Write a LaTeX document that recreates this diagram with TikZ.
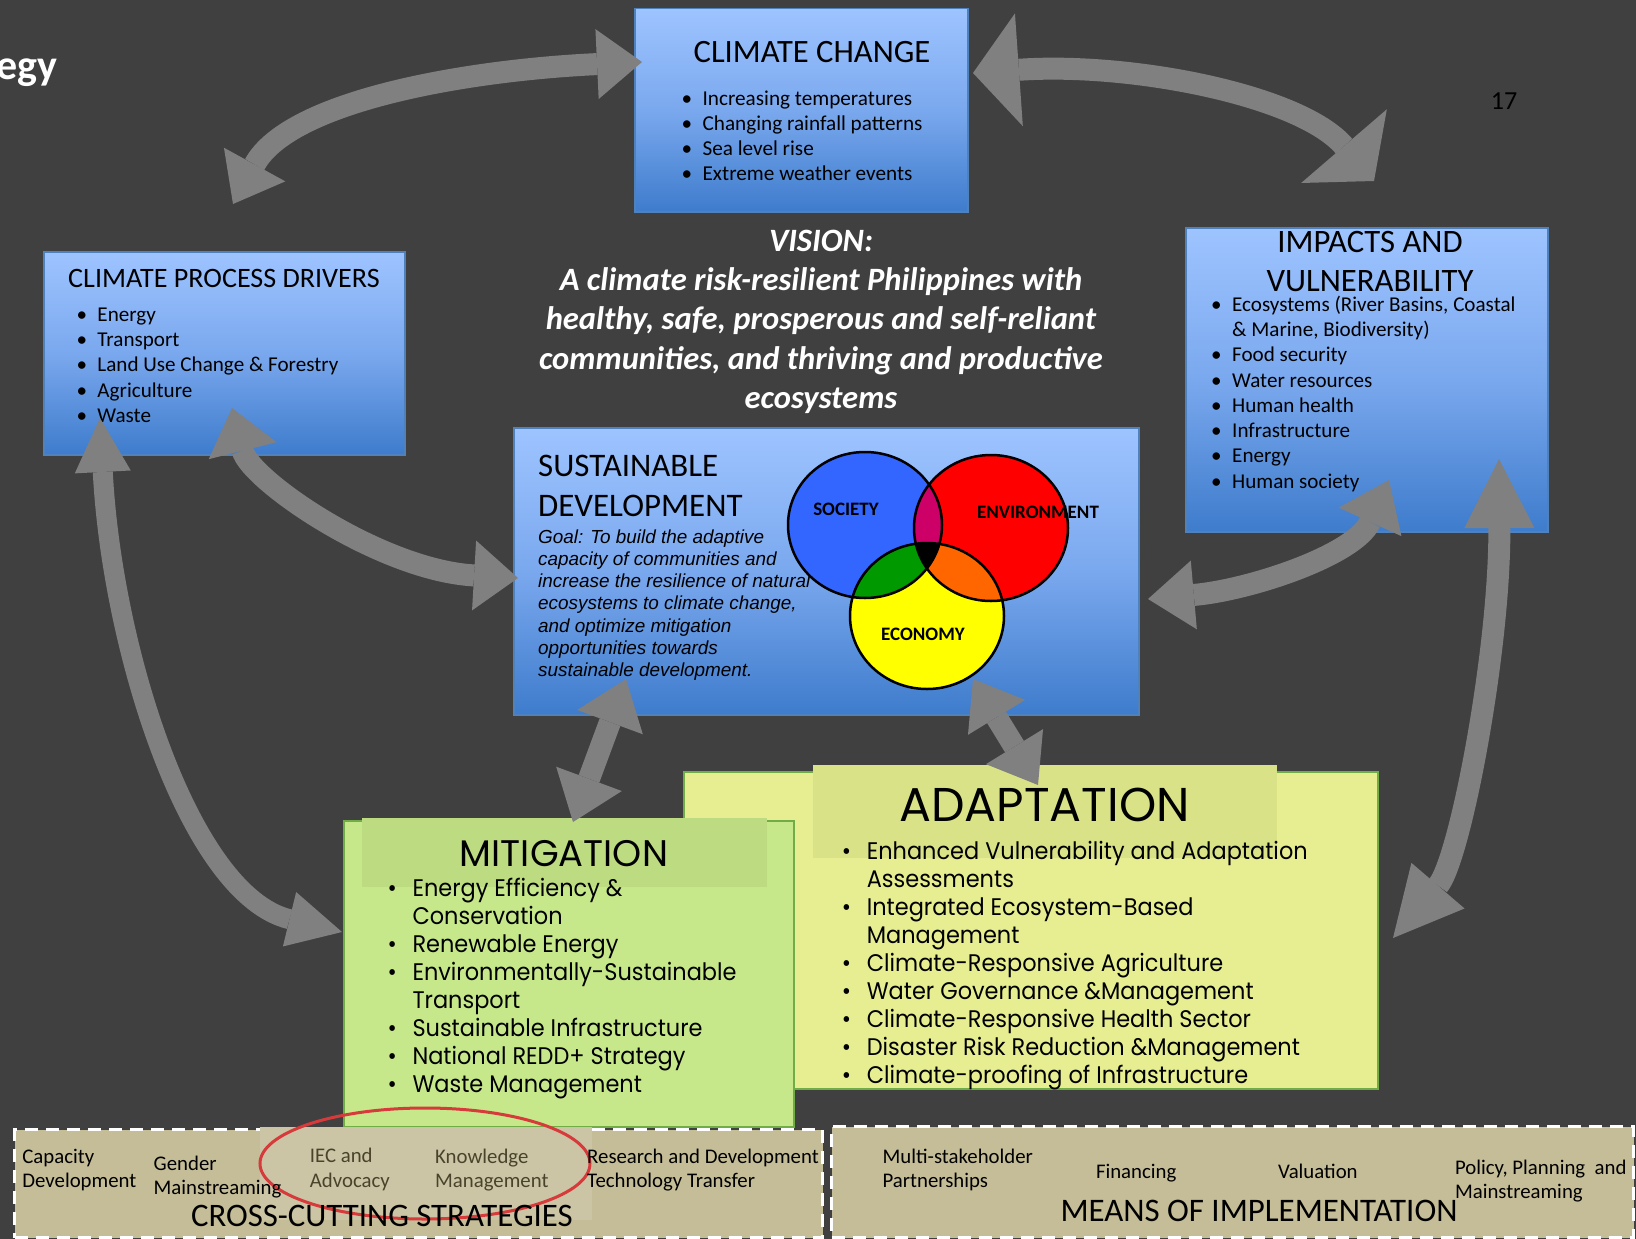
\documentclass[tikz,border=0pt]{standalone}
\usepackage{fontspec}
\setmainfont{Carlito}
\newfontfamily\arialfont{Liberation Sans}
\newfontfamily\gothicfont{Poppins}
\newfontfamily\gothiclist[FakeStretch=0.935]{Poppins}
\usetikzlibrary{arrows.meta,positioning,calc}

\definecolor{slidebg}{RGB}{64,64,64}
\definecolor{arrowgray}{RGB}{128,128,128}
\definecolor{bluetop}{RGB}{158,196,255}
\definecolor{bluemid}{RGB}{122,168,238}
\definecolor{bluebot}{RGB}{62,124,204}
\definecolor{blueline}{RGB}{79,129,189}
\definecolor{mitfill}{RGB}{198,232,139}
\definecolor{mithead}{RGB}{189,220,130}
\definecolor{adafill}{RGB}{230,238,145}
\definecolor{adahead}{RGB}{218,226,136}
\definecolor{greenline}{RGB}{112,173,71}
\definecolor{tanfill}{RGB}{196,189,151}
\definecolor{patchfill}{RGB}{203,197,166}
\definecolor{ringred}{RGB}{214,58,58}
\definecolor{societyblue}{RGB}{51,102,255}
\definecolor{envred}{RGB}{255,0,0}
\definecolor{ecoyellow}{RGB}{255,255,0}
\definecolor{lensmagenta}{RGB}{204,0,102}
\definecolor{lensgreen}{RGB}{0,153,0}
\definecolor{lensorange}{RGB}{255,102,0}
\definecolor{olivetext}{RGB}{74,67,44}

\newcommand{\fsz}[2]{\fontsize{#1}{#2}\selectfont}
\newcommand{\dotitem}[1][21pt]{\llap{\makebox[#1][l]{\textbullet}}}
\newcommand{\socring}{(865,525) ellipse [x radius=77, y radius=73]}
\newcommand{\envring}{(991,528) ellipse [x radius=77, y radius=73]}
\newcommand{\ecoring}{(927,616) ellipse [x radius=77, y radius=73]}

\begin{document}
\begin{tikzpicture}[x=1pt, y=-1pt,
    bluebox/.style={draw=blueline, line width=1.5pt, top color=bluetop, bottom color=bluebot, middle color=bluemid, anchor=north west, inner sep=0pt},
    greenbox/.style={draw=greenline, line width=2pt, anchor=north west, inner sep=0pt},
    band/.style={anchor=north west, inner sep=0pt},
    dashbox/.style={draw=white, line width=3pt, dash pattern=on 13pt off 8pt, fill=tanfill, anchor=north west, inner sep=0pt},
    item/.style={anchor=base west, inner sep=0pt},
    head/.style={anchor=base, inner sep=0pt},
    biarrow/.style n args={3}{draw=arrowgray, line width=#1,
      {Triangle[width=#2, length=#3, line width=0pt]}-{Triangle[width=#2, length=#3, line width=0pt]}}]

  % Slide background and page size
  \fill[slidebg] (0,0) rectangle (1636,1239);
  \useasboundingbox (0,0) rectangle (1636,1239);

  % Title fragment and page number
  \node[anchor=base east, inner sep=0pt, text=white, font=\fsz{42}{48}\bfseries] (ttl) at (58,79) {egy};
  \node[head, font=\fsz{26}{30}] (pgno) at (1504,109) {17};

  % Climate change
  \node[bluebox, minimum width=333pt, minimum height=203pt] (cc) at (634,8) {};
  \node[head, font=\fsz{32.6}{38}] (cc-title) at (812,63) {CLIMATE CHANGE};
  \foreach \txt [count=\i from 0] in {Increasing temperatures, Changing rainfall patterns, Sea level rise, Extreme weather events}
    \node[item, font=\fsz{21.2}{25}] (cc-\i) at (702.4,105+25.3*\i) {\dotitem\txt};

  % Climate process drivers
  \node[bluebox, minimum width=361pt, minimum height=203pt] (drv) at (43,251) {};
  \node[head, font=\fsz{28.1}{33}] (drv-title) at (224,287) {CLIMATE PROCESS DRIVERS};
  \foreach \txt [count=\i from 0] in {Energy, Transport, Land Use Change \& Forestry, Agriculture, Waste}
    \node[item, font=\fsz{21.1}{25}] (drv-\i) at (97.3,321.7+25.1*\i) {\dotitem\txt};

  % Impacts and vulnerability
  \node[bluebox, minimum width=362pt, minimum height=304pt] (imp) at (1185,227) {};
  \node[head, font=\fsz{32.7}{38}] (imp-title) at (1370,252) {IMPACTS AND};
  \node[head, font=\fsz{32.7}{38}] (imp-title2) at (1370,291) {VULNERABILITY};
  \foreach \txt [count=\i from 0] in {{\dotitem Ecosystems (River Basins, Coastal}, {\& Marine, Biodiversity)},
      \dotitem Food security, \dotitem Water resources, \dotitem Human health,
      \dotitem Infrastructure, \dotitem Energy, \dotitem Human society}
    \node[item, font=\fsz{21.1}{25}] (imp-\i) at (1232,311.4+25.25*\i) {\txt};

  % Vision statement
  \foreach \txt [count=\i from 0] in {VISION:, A climate risk-resilient Philippines with,
      {healthy, safe, prosperous and self-reliant}, {communities, and thriving and productive}, ecosystems}
    \node[head, text=white, font=\fsz{32.6}{39}\bfseries\itshape] (vis-\i) at (821,251.7+39.1*\i) {\txt};

  % Sustainable development
  \node[bluebox, minimum width=625pt, minimum height=287pt] (sd) at (513,427) {};
  \node[item, font=\fsz{32.9}{39}] (sd-title) at (538,476.7) {SUSTAINABLE};
  \node[item, font=\fsz{32.9}{39}] (sd-title2) at (538,516) {DEVELOPMENT};
  \foreach \txt [count=\i from 0] in {Goal: To build the adaptive, capacity of communities and,
      increase the resilience of natural, {ecosystems to climate change,}, and optimize mitigation,
      opportunities towards, sustainable development.}
    \node[item, font=\fsz{18.9}{22}\arialfont\itshape] (goal-\i) at (538,543.3+22.2*\i) {\txt};

  % Society, environment, economy
  \fill[societyblue] \socring;
  \fill[envred] \envring;
  \fill[ecoyellow] \ecoring;
  \begin{scope}
    \clip \socring;
    \fill[lensmagenta] \envring;
    \fill[lensgreen] \ecoring;
  \end{scope}
  \begin{scope}
    \clip \envring;
    \fill[lensorange] \ecoring;
  \end{scope}
  \begin{scope}
    \clip \socring;
    \clip \envring;
    \fill[black] \ecoring;
  \end{scope}
  \draw[line width=2.5pt] \socring \envring \ecoring;
  \node[head, font=\fsz{19}{22}\bfseries] (soc) at (846,515) {SOCIETY};
  \node[head, font=\fsz{19}{22}\bfseries] (env) at (1038,518.3) {ENVIRONMENT};
  \node[head, font=\fsz{19}{22}\bfseries] (eco) at (923,640) {ECONOMY};

  % Adaptation
  \node[greenbox, fill=adafill, minimum width=694pt, minimum height=317pt] (ada) at (683,771) {};
  \node[band, fill=adahead, minimum width=464pt, minimum height=93pt] (ada-band) at (813,765) {};
  \node[head, font=\fsz{47.4}{54}\gothicfont] (ada-title) at (1044.5,821.7) {ADAPTATION};
  \foreach \txt [count=\i from 0] in {\dotitem[25pt]Enhanced Vulnerability and Adaptation, Assessments,
      \dotitem[25pt]Integrated Ecosystem-Based, Management, \dotitem[25pt]Climate-Responsive Agriculture,
      \dotitem[25pt]Water Governance \&Management, \dotitem[25pt]Climate-Responsive Health Sector,
      \dotitem[25pt]Disaster Risk Reduction \&Management, \dotitem[25pt]Climate-proofing of Infrastructure}
    \node[item, font=\fsz{24}{28}\gothiclist] (ada-\i) at (866.6,859.3+28*\i) {\txt};

  % Mitigation
  \node[greenbox, fill=mitfill, minimum width=450pt, minimum height=306pt] (mit) at (343,820) {};
  \node[band, fill=mithead, minimum width=405pt, minimum height=69pt] (mit-band) at (362,818) {};
  \node[head, font=\fsz{37}{44}\gothicfont] (mit-title) at (564,866) {MITIGATION};
  \foreach \txt [count=\i from 0] in {\dotitem[25pt]Energy Efficiency \&, Conservation,
      \dotitem[25pt]Renewable Energy, \dotitem[25pt]Environmentally-Sustainable, Transport,
      \dotitem[25pt]Sustainable Infrastructure, \dotitem[25pt]National REDD+ Strategy,
      \dotitem[25pt]Waste Management}
    \node[item, font=\fsz{24}{28}\gothiclist] (mit-\i) at (412.3,896.7+27.95*\i) {\txt};

  % Cross-cutting strategies
  \node[dashbox, minimum width=808pt, minimum height=108pt] (cross) at (13,1128) {};
  \fill[patchfill] (260,1127) rectangle (592,1220);
  \draw[ringred, line width=3pt] (425,1163.5) ellipse [x radius=165, y radius=55.5];
  \node[item, font=\fsz{20.8}{25}] (cap) at (22.2,1163.3) {Capacity};
  \node[item, font=\fsz{20.8}{25}] (cap2) at (22.2,1187.3) {Development};
  \node[item, font=\fsz{20.8}{25}] (gen) at (153.5,1170.7) {Gender};
  \node[item, font=\fsz{20.8}{25}] (gen2) at (153.5,1194) {Mainstreaming};
  \node[item, text=olivetext, font=\fsz{20.8}{25}] (iec) at (309.7,1162.3) {IEC and};
  \node[item, text=olivetext, font=\fsz{20.8}{25}] (iec2) at (309.7,1187.3) {Advocacy};
  \node[item, text=olivetext, font=\fsz{20.8}{25}] (km) at (435,1163.3) {Knowledge};
  \node[item, text=olivetext, font=\fsz{20.8}{25}] (km2) at (435,1187.3) {Management};
  \node[item, font=\fsz{20.8}{25}] (rd) at (587,1163.3) {Research and Development};
  \node[item, font=\fsz{20.8}{25}] (rd2) at (587,1187.3) {Technology Transfer};
  \node[head, font=\fsz{32.8}{38}] (cross-title) at (382,1226) {CROSS-CUTTING STRATEGIES};

  % Means of implementation
  \node[dashbox, minimum width=802pt, minimum height=111pt] (means) at (830,1125) {};
  \node[item, font=\fsz{20.8}{25}] (msp) at (882.4,1163.3) {Multi-stakeholder};
  \node[item, font=\fsz{20.8}{25}] (msp2) at (882.4,1187.3) {Partnerships};
  \node[item, font=\fsz{20.8}{25}] (fin) at (1095.8,1178.3) {Financing};
  \node[item, font=\fsz{20.8}{25}] (val) at (1277.9,1178.3) {Valuation};
  \node[item, font=\fsz{20.8}{25}] (pol) at (1454.8,1174) {Policy, Planning\ \ and};
  \node[item, font=\fsz{20.8}{25}] (pol2) at (1454.8,1198.3) {Mainstreaming};
  \node[head, font=\fsz{32.9}{38}] (means-title) at (1259,1221.7) {MEANS OF IMPLEMENTATION};

  % Arrow ends
  \coordinate (drv-top) at (233,204);
  \coordinate (cc-left) at (642,62);
  \coordinate (cc-right) at (973,73);
  \coordinate (imp-top) at (1374,181);
  \coordinate (drv-corner) at (232,408);
  \coordinate (sd-left) at (518,578);
  \coordinate (drv-foot) at (100,418);
  \coordinate (mit-left) at (342,932);
  \coordinate (sd-foot) at (626,679);
  \coordinate (mit-top) at (573,822);
  \coordinate (eco-foot) at (973,679);
  \coordinate (ada-top) at (1038,785);
  \coordinate (sd-right) at (1148,599);
  \coordinate (imp-low) at (1389,480);
  \coordinate (imp-foot) at (1499,459);
  \coordinate (ada-right) at (1393,938);

  % Double arrows
  \draw[biarrow={22pt}{70pt}{45pt}] (drv-top) .. controls (290,100) and (470,70) .. (cc-left);
  \draw[biarrow={22pt}{113pt}{46pt}] (cc-right) .. controls (1130,62) and (1300,95) .. (imp-top);
  \draw[biarrow={22pt}{70pt}{44pt}] (drv-corner) .. controls (250,480) and (380,570) .. (sd-left);
  \draw[biarrow={20pt}{56pt}{54pt}] (drv-foot) .. controls (112,650) and (190,895) .. (mit-left);
  \draw[biarrow={22pt}{70pt}{46pt}] (sd-foot) -- (mit-top);
  \draw[biarrow={22pt}{67pt}{45pt}] (eco-foot) -- (ada-top);
  \draw[biarrow={22pt}{69pt}{46pt}] (sd-right) .. controls (1250,590) and (1355,555) .. (imp-low);
  \draw[biarrow={22pt}{70pt}{69pt}] (imp-foot) .. controls (1500,650) and (1460,860) .. (ada-right);
\end{tikzpicture}
\end{document}
